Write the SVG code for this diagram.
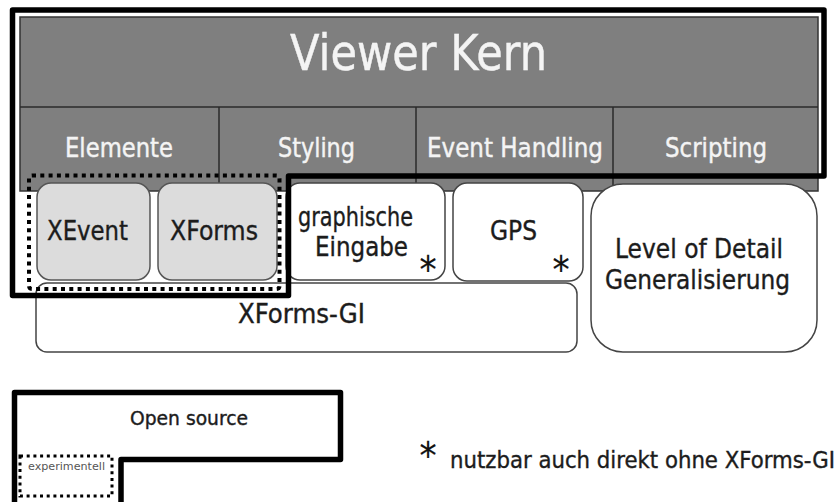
<svg xmlns="http://www.w3.org/2000/svg" width="839" height="502" viewBox="0 0 839 502">
<style>
text{font-family:"DejaVu Sans Condensed","DejaVu Sans",sans-serif;text-anchor:middle}
.hd{fill:#f4f4f4;stroke:#f4f4f4;stroke-width:0.4}
.tx{fill:#1c1c1c;stroke:#1c1c1c;stroke-width:0.35}
.ast{fill:#111;stroke:#111;stroke-width:0.2}
.box{fill:#ffffff;stroke:#444;stroke-width:1.5}
.gbox{fill:#dcdcdc;stroke:#555;stroke-width:1.5}
.thick{fill:none;stroke:#000;stroke-width:5.5;stroke-linejoin:round}
.dots{fill:none;stroke:#000;stroke-width:4;stroke-dasharray:4 4.3}
.div{stroke:#2a2a2a;stroke-width:1.5}
</style>
<rect width="839" height="502" fill="#fff"/>
<g id="kern">
<rect x="20" y="17" width="798" height="174" fill="#7f7f7f" stroke="#333" stroke-width="1.5"/>
<line class="div" x1="20" y1="107" x2="818" y2="107"/>
<line class="div" x1="219" y1="107" x2="219" y2="191"/>
<line class="div" x1="416" y1="107" x2="416" y2="191"/>
<line class="div" x1="613" y1="107" x2="613" y2="191"/>
<text class="hd" x="418.5" y="70" font-size="50" textLength="257" lengthAdjust="spacingAndGlyphs">Viewer Kern</text>
<text class="hd" x="119" y="157" font-size="26" textLength="108" lengthAdjust="spacingAndGlyphs">Elemente</text>
<text class="hd" x="316.5" y="157" font-size="26" textLength="77" lengthAdjust="spacingAndGlyphs">Styling</text>
<text class="hd" x="515" y="157" font-size="26" textLength="176" lengthAdjust="spacingAndGlyphs">Event Handling</text>
<text class="hd" x="716" y="157" font-size="26" textLength="102" lengthAdjust="spacingAndGlyphs">Scripting</text>
</g>
<g id="xforms-gi">
<rect class="box" x="36" y="283" width="541" height="69" rx="11"/>
<text class="tx" x="301.5" y="323" font-size="26" textLength="127" lengthAdjust="spacingAndGlyphs">XForms-GI</text>
</g>
<g id="xevent">
<rect class="gbox" x="37" y="183" width="113" height="97" rx="14"/>
<text class="tx" x="87.5" y="240" font-size="26" textLength="81" lengthAdjust="spacingAndGlyphs">XEvent</text>
</g>
<g id="xformsbox">
<rect class="gbox" x="158" y="183" width="119" height="97" rx="14"/>
<text class="tx" x="214" y="240" font-size="26" textLength="88" lengthAdjust="spacingAndGlyphs">XForms</text>
</g>
<g id="graphische">
<rect class="box" x="286" y="183" width="159" height="97" rx="14"/>
<text class="tx" x="355.5" y="226" font-size="26" textLength="115" lengthAdjust="spacingAndGlyphs">graphische</text>
<text class="tx" x="361.5" y="256" font-size="26" textLength="93" lengthAdjust="spacingAndGlyphs">Eingabe</text>
<text class="ast" x="428" y="283" font-size="38">*</text>
</g>
<g id="gps">
<rect class="box" x="453" y="183" width="130" height="98" rx="14"/>
<text class="tx" x="513.5" y="240" font-size="26" textLength="47" lengthAdjust="spacingAndGlyphs">GPS</text>
<text class="ast" x="561" y="283" font-size="38">*</text>
</g>
<g id="lod">
<rect class="box" x="591" y="184" width="226" height="168" rx="32"/>
<text class="tx" x="699" y="258" font-size="26" textLength="168" lengthAdjust="spacingAndGlyphs">Level of Detail</text>
<text class="tx" x="697.5" y="289" font-size="26" textLength="185" lengthAdjust="spacingAndGlyphs">Generalisierung</text>
</g>
<g id="connectors">
<path id="opensource-border" class="thick" d="M12.5,10 H824 V176 H288.5 V295.5 H12.5 Z"/>
<rect id="experimental-border" class="dots" x="29" y="175.5" width="250.5" height="113.5" rx="3"/>
</g>
<g id="legend">
<path class="thick" d="M14.5,505 V392.5 H340.5 V459.5 H121 V505"/>
<text class="tx" x="189" y="425" font-size="19" textLength="118" lengthAdjust="spacingAndGlyphs">Open source</text>
<rect x="20" y="456" width="92" height="40" fill="none" stroke="#000" stroke-width="3" stroke-dasharray="3 3.7"/>
<text x="66.5" y="470" font-size="10" fill="#555" textLength="77" lengthAdjust="spacingAndGlyphs">experimentell</text>
<text class="ast" x="428" y="469" font-size="38">*</text>
<text class="tx" x="450" y="468" font-size="23" style="text-anchor:start" textLength="385" lengthAdjust="spacingAndGlyphs">nutzbar auch direkt ohne XForms-GI</text>
</g>
</svg>
